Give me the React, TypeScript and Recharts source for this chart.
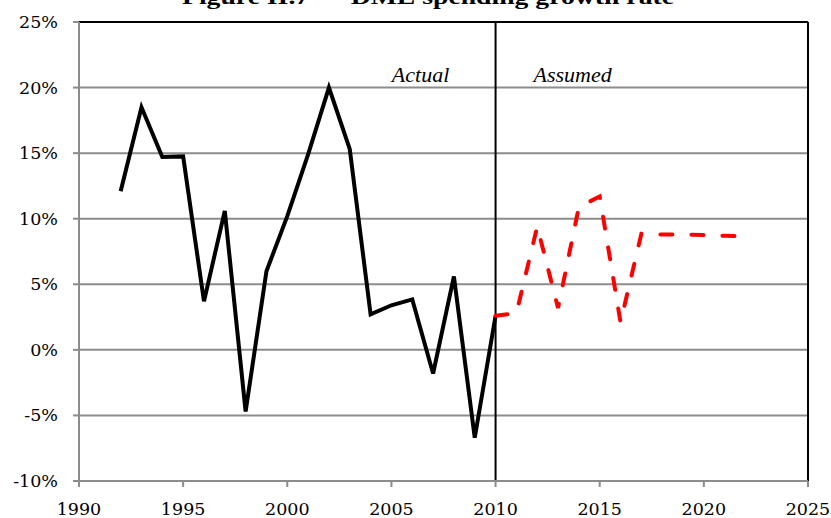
import React from 'react';
import { LineChart, Line, XAxis, YAxis, CartesianGrid, ReferenceLine, ReferenceDot } from 'recharts';

const actualYears = [1992, 1993, 1994, 1995, 1996, 1997, 1998, 1999, 2000, 2001, 2002, 2003, 2004, 2005, 2006, 2007, 2008, 2009, 2010];
const actualGrowth = [12.1, 18.5, 14.7, 14.75, 3.7, 10.6, -4.7, 6.0, 10.2, 14.9, 20.0, 15.3, 2.7, 3.4, 3.85, -1.8, 5.6, -6.7, 2.6];

const assumedYears = [2010, 2011, 2012, 2013, 2014, 2015, 2016, 2017, 2018, 2019, 2020, 2021, 2022];
const assumedGrowth = [2.6, 2.8, 9.4, 3.2, 10.9, 11.7, 2.1, 8.85, 8.8, 8.8, 8.75, 8.7, 8.65];

const xTicks = [1990, 1995, 2000, 2005, 2010, 2015, 2020, 2025];
const yTicks = [-10, -5, 0, 5, 10, 15, 20, 25];

const periodLabels = ['Actual', 'Assumed'];
const periodLabelYears = [2006.4, 2013.7];
const periodLabelLevel = 20.4;

const title = 'Figure II.7 \u2014 DME spending growth rate';

const tickFont = "'DejaVu Serif', 'Liberation Serif', serif";
const gridGray = '#8c8c8c';

// merge both series into one table keyed by year
const rows: { year: number; actual?: number; assumed?: number }[] = [];
actualYears.forEach((y, i) => rows.push({ year: y, actual: actualGrowth[i] }));
assumedYears.forEach((y, i) => {
  const row = rows.find(r => r.year === y);
  if (row) row.assumed = assumedGrowth[i];
  else rows.push({ year: y, assumed: assumedGrowth[i] });
});

function XTick(props: any) {
  const { x, y, payload } = props;
  return (
    <text x={x} y={y} dy={22} textAnchor="middle" style={{ fontFamily: tickFont, fontSize: 17.5, fill: '#000' }}>
      {payload.value}
    </text>
  );
}

function YTick(props: any) {
  const { x, y, payload } = props;
  return (
    <text x={x} y={y} dy={6} textAnchor="end" style={{ fontFamily: tickFont, fontSize: 17.5, fill: '#000' }}>
      {`${payload.value}%`}
    </text>
  );
}

export default function App() {
  return (
    <div style={{ position: 'relative', width: 831, height: 518, overflow: 'hidden', background: '#fff' }}>
      <style>{`body{margin:0}`}</style>
      <svg width={831} height={20} style={{ position: 'absolute', left: 0, top: 0 }}>
        <text x={182} y={4} textLength={492} lengthAdjust="spacingAndGlyphs" style={{ fontFamily: "'Liberation Serif', serif", fontWeight: 'bold', fontSize: 21 }}>
          {title}
        </text>
      </svg>
      <LineChart width={831} height={518} data={rows} margin={{ top: 22, right: 23, bottom: 0, left: 0 }}>
        <CartesianGrid vertical={false} stroke={gridGray} strokeWidth={2} />
        <XAxis
          dataKey="year"
          type="number"
          domain={[1990, 2025]}
          ticks={xTicks}
          height={37}
          axisLine={{ stroke: gridGray, strokeWidth: 2 }}
          tickLine={{ stroke: gridGray, strokeWidth: 2 }}
          tickSize={6}
          tickMargin={6}
          tick={<XTick />}
        />
        <YAxis
          type="number"
          domain={[-10, 25]}
          ticks={yTicks}
          width={79}
          axisLine={{ stroke: gridGray, strokeWidth: 2 }}
          tickLine={{ stroke: gridGray, strokeWidth: 2 }}
          tickSize={6}
          tickMargin={15}
          tick={<YTick />}
        />
        <ReferenceLine y={25} stroke="#000" strokeWidth={2} />
        <ReferenceLine x={2025} stroke="#000" strokeWidth={2} />
        <ReferenceLine x={2010} stroke="#000" strokeWidth={2} />
        <Line
          type="linear"
          dataKey="actual"
          stroke="#000"
          strokeWidth={4}
          dot={false}
          activeDot={false}
          isAnimationActive={false}
        />
        <Line
          type="linear"
          dataKey="assumed"
          stroke="#ff0000"
          strokeWidth={4}
          strokeDasharray="12 19"
          strokeLinecap="round"
          dot={false}
          activeDot={false}
          isAnimationActive={false}
        />
        {periodLabels.map((label, i) => (
          <ReferenceDot
            key={label}
            x={periodLabelYears[i]}
            y={periodLabelLevel}
            r={0}
            fill="none"
            stroke="none"
            label={(p: any) => (
              <text
                x={p.viewBox.x + (p.viewBox.width || 0) / 2}
                y={p.viewBox.y + (p.viewBox.height || 0) / 2}
                textAnchor="middle"
                style={{ fontFamily: "'Liberation Serif', serif", fontStyle: 'italic', fontSize: 22, fill: '#000' }}
              >
                {label}
              </text>
            )}
          />
        ))}
      </LineChart>
    </div>
  );
}
